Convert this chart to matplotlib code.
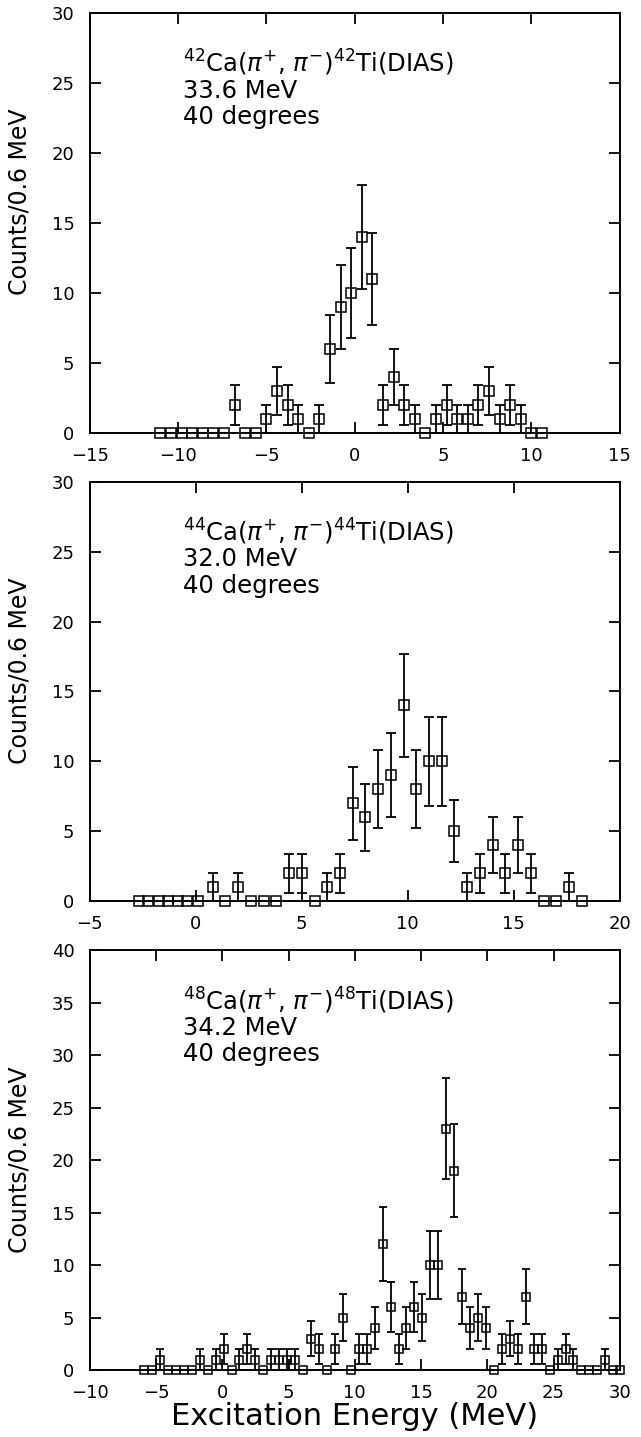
import numpy as np
import matplotlib
matplotlib.use("Agg")
import matplotlib.pyplot as plt

# ---- 42Ca panel
x42 = [-11.0, -10.4, -9.8, -9.2, -8.6, -8.0, -7.4, -6.8, -6.2, -5.6, -5.0, -4.4, -3.8,
       -3.2, -2.6, -2.0, -1.4, -0.8, -0.2, 0.4, 1.0, 1.6, 2.2, 2.8, 3.4, 4.0, 4.6, 5.2,
       5.8, 6.4, 7.0, 7.6, 8.2, 8.8, 9.4, 10.0, 10.6]
c42 = [0, 0, 0, 0, 0, 0, 0, 2, 0, 0, 1, 3, 2, 1, 0, 1, 6, 9, 10, 14, 11, 2, 4, 2, 1, 0,
       1, 2, 1, 1, 2, 3, 1, 2, 1, 0, 0]
e42 = [0, 0, 0, 0, 0, 0, 0, 1.4, 0, 0, 1.0, 1.7, 1.4, 1.0, 0, 1.0, 2.4, 3.0, 3.2, 3.7,
       3.3, 1.4, 2.0, 1.4, 1.0, 0, 1.0, 1.4, 1.0, 1.0, 1.4, 1.7, 1.0, 1.4, 1.0, 0, 0]

# ---- 44Ca panel
x44 = [-2.7, -2.25, -1.75, -1.3, -0.85, -0.4, 0.1, 0.8, 1.4, 2.0, 2.6, 3.2, 3.8, 4.4,
       5.0, 5.6, 6.2, 6.8, 7.4, 8.0, 8.6, 9.2, 9.8, 10.4, 11.0, 11.6, 12.2, 12.8, 13.4,
       14.0, 14.6, 15.2, 15.8, 16.4, 17.0, 17.6, 18.2]
c44 = [0, 0, 0, 0, 0, 0, 0, 1, 0, 1, 0, 0, 0, 2, 2, 0, 1, 2, 7, 6, 8, 9, 14, 8, 10, 10,
       5, 1, 2, 4, 2, 4, 2, 0, 0, 1, 0]
e44 = [0, 0, 0, 0, 0, 0, 0, 1.0, 0, 1.0, 0, 0, 0, 1.4, 1.4, 0, 1.0, 1.4, 2.6, 2.4, 2.8,
       3.0, 3.7, 2.8, 3.2, 3.2, 2.2, 1.0, 1.4, 2.0, 1.4, 2.0, 1.4, 0, 0, 1.0, 0]

# ---- 48Ca panel
x48 = [-5.9, -5.3, -4.7, -4.1, -3.5, -2.9, -2.3, -1.7, -1.1, -0.5, 0.1, 0.7, 1.3, 1.9,
       2.5, 3.1, 3.7, 4.3, 4.9, 5.5, 6.1, 6.7, 7.3, 7.9, 8.5, 9.1, 9.7, 10.3, 10.9, 11.5,
       12.1, 12.7, 13.3, 13.9, 14.5, 15.1, 15.7, 16.3, 16.9, 17.5, 18.1, 18.7, 19.3,
       19.9, 20.5, 21.1, 21.7, 22.3, 22.9, 23.5, 24.1, 24.7, 25.3, 25.9, 26.5, 27.1,
       27.7, 28.3, 28.9, 29.5, 30.0]
c48 = [0, 0, 1, 0, 0, 0, 0, 1, 0, 1, 2, 0, 1, 2, 1, 0, 1, 1, 1, 1, 0, 3, 2, 0, 2, 5, 0,
       2, 2, 4, 12, 6, 2, 4, 6, 5, 10, 10, 23, 19, 7, 4, 5, 4, 0, 2, 3, 2, 7, 2, 2, 0, 1,
       2, 1, 0, 0, 0, 1, 0, 0]
e48 = [0, 0, 1.0, 0, 0, 0, 0, 1.0, 0, 1.0, 1.4, 0, 1.0, 1.4, 1.0, 0, 1.0, 1.0, 1.0, 1.0,
       0, 1.7, 1.4, 0, 1.4, 2.2, 0, 1.4, 1.4, 2.0, 3.5, 2.4, 1.4, 2.0, 2.4, 2.2, 3.2, 3.2,
       4.8, 4.4, 2.6, 2.0, 2.2, 2.0, 0, 1.4, 1.7, 1.4, 2.6, 1.4, 1.4, 0, 1.0, 1.4, 1.0, 0,
       0, 0, 1.0, 0, 0]

labels42 = [r'$^{42}$Ca($\pi^{+}$, $\pi^{-}$)$^{42}$Ti(DIAS)', '33.6 MeV', '40 degrees']
labels44 = [r'$^{44}$Ca($\pi^{+}$, $\pi^{-}$)$^{44}$Ti(DIAS)', '32.0 MeV', '40 degrees']
labels48 = [r'$^{48}$Ca($\pi^{+}$, $\pi^{-}$)$^{48}$Ti(DIAS)', '34.2 MeV', '40 degrees']

plt.rcParams['font.family'] = 'DejaVu Sans'
plt.rcParams['mathtext.fontset'] = 'dejavusans'

fig = plt.figure(figsize=(6.41, 14.37), dpi=100)
L, W = 0.140, 0.827
ax1 = fig.add_axes([L, 0.6987, W, 0.2923])
ax2 = fig.add_axes([L, 0.3730, W, 0.2916])
ax3 = fig.add_axes([L, 0.0466, W, 0.2923])


def make_panel(ax, x, c, e, xlim, ylim, text, ms, cap, ylab_y):
    x = np.array(x)
    c = np.array(c)
    e = np.array(e)
    has = c > 0
    # no bars on empty bins
    ax.errorbar(x[has], c[has], yerr=e[has], fmt='none', ecolor='black',
                elinewidth=1.3, capsize=cap, capthick=1.3, clip_on=False)
    ax.plot(x, c, 's', ms=ms, mfc='none', mec='black', mew=1.1, clip_on=False, zorder=3)
    ax.set_xlim(xlim)
    ax.set_ylim(ylim)
    ax.set_xticks(np.arange(xlim[0], xlim[1] + 1, 5))
    ax.set_yticks(np.arange(ylim[0], ylim[1] + 1, 5))
    ax.tick_params(direction='in', length=8, width=1.3, top=True, right=True,
                   labelsize=13)
    ax.tick_params(axis='y', pad=11)
    ax.tick_params(axis='x', pad=10)
    for s in ax.spines.values():
        s.set_linewidth(1.4)
    ys = [0.88, 0.815, 0.752]
    for t, yy in zip(text, ys):
        ax.text(0.175, yy, t, transform=ax.transAxes, fontsize=17.5,
                ha='left', va='center')
    ax.set_ylabel('Counts/0.6 MeV', fontsize=17)
    ax.yaxis.set_label_coords(-0.11, ylab_y)


make_panel(ax1, x42, c42, e42, (-15, 15), (0, 30), labels42, 6.5, 3.8, 0.55)
make_panel(ax2, x44, c44, e44, (-5, 20), (0, 30), labels44, 6.5, 3.8, 0.55)
make_panel(ax3, x48, c48, e48, (-10, 30), (0, 40), labels48, 5.4, 3.0, 0.5)
ax3.set_xlabel('Excitation Energy (MeV)', fontsize=22, labelpad=0)

fig.savefig('out.png', dpi=100)
